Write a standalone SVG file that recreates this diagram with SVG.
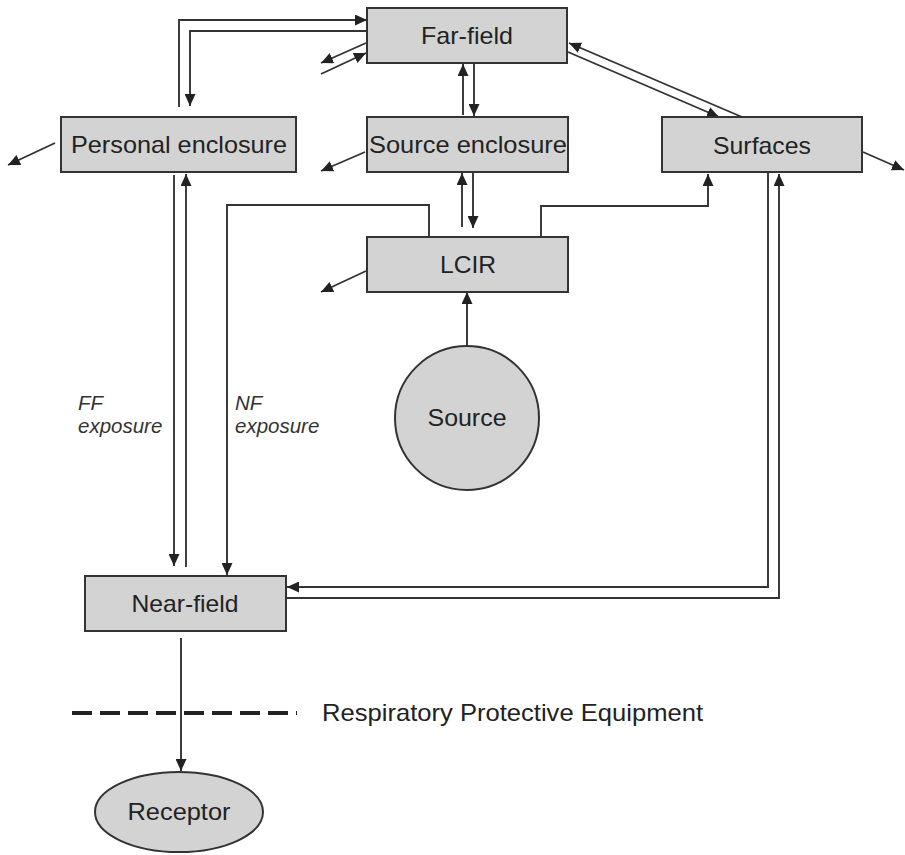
<svg xmlns="http://www.w3.org/2000/svg" width="905" height="855" viewBox="0 0 905 855">
<style>
.box{fill:#d3d3d3;stroke:#333;stroke-width:2}
.lbl{font-family:"Liberation Sans",Arial,sans-serif;font-size:24px;fill:#222;text-anchor:middle}
.it{font-family:"Liberation Sans",Arial,sans-serif;font-size:20.5px;font-style:italic;fill:#333}
.c{fill:none;stroke:#333;stroke-width:1.9}
.a{marker-end:url(#ah)}
</style>
<defs>
<marker id="ah" markerUnits="userSpaceOnUse" markerWidth="13" markerHeight="11" refX="12" refY="5.5" orient="auto">
<path d="M0,0 L12,5.5 L0,11 z" fill="#222"/>
</marker>
</defs>
<rect width="905" height="855" fill="#fff"/>
<g id="connectors">
<path class="c a" d="M179,107 V20 H367"/>
<path class="c a" d="M367,31 H190 V106"/>
<path class="c a" d="M366,43 L321,63"/>
<path class="c a" d="M321,74 L366,53"/>
<path class="c a" d="M463,115 V64"/>
<path class="c a" d="M474,64 V116"/>
<path class="c a" d="M55,143 L8,165"/>
<path class="c a" d="M174,175 V566"/>
<path class="c a" d="M186,567 V174"/>
<path class="c a" d="M429,237 V205 H227 V575"/>
<path class="c a" d="M541,237 V206 H708 V174"/>
<path class="c a" d="M462,227 V173"/>
<path class="c a" d="M473,173 V228"/>
<path class="c a" d="M365,152 L321,171"/>
<path class="c a" d="M366,271 L321,292"/>
<path class="c a" d="M467,346 V292"/>
<path class="c a" d="M742,117 L569,43"/>
<path class="c a" d="M568,52 L719,117"/>
<path class="c a" d="M863,152 L904,170"/>
<path class="c a" d="M768,173 V587 H287"/>
<path class="c a" d="M286,598 H779 V174"/>
<path class="c a" d="M181,638 V771"/>
<path d="M72,713 H297" fill="none" stroke="#222" stroke-width="4" stroke-dasharray="20 8"/>
</g>
<g id="far-field"><rect class="box" x="367" y="8" width="200" height="55"/><text class="lbl" x="467" y="44" textLength="92" lengthAdjust="spacingAndGlyphs">Far-field</text></g>
<g id="personal-enclosure"><rect class="box" x="61" y="117" width="235" height="55"/><text class="lbl" x="179" y="153" textLength="216" lengthAdjust="spacingAndGlyphs">Personal enclosure</text></g>
<g id="source-enclosure"><rect class="box" x="367" y="117" width="201" height="55"/><text class="lbl" x="468" y="153" textLength="198" lengthAdjust="spacingAndGlyphs">Source enclosure</text></g>
<g id="surfaces"><rect class="box" x="662" y="117" width="200" height="55"/><text class="lbl" x="762" y="154" textLength="98" lengthAdjust="spacingAndGlyphs">Surfaces</text></g>
<g id="lcir"><rect class="box" x="367" y="237" width="201" height="55"/><text class="lbl" x="468" y="273" textLength="56" lengthAdjust="spacingAndGlyphs">LCIR</text></g>
<g id="source"><circle class="box" cx="467" cy="418" r="72"/><text class="lbl" x="467" y="426" textLength="79" lengthAdjust="spacingAndGlyphs">Source</text></g>
<g id="near-field"><rect class="box" x="85" y="576" width="201" height="55"/><text class="lbl" x="185" y="612" textLength="107" lengthAdjust="spacingAndGlyphs">Near-field</text></g>
<g id="receptor"><ellipse class="box" cx="179" cy="812" rx="84" ry="40"/><text class="lbl" x="179" y="820" textLength="103" lengthAdjust="spacingAndGlyphs">Receptor</text></g>
<g id="labels">
<text class="it" x="78" y="410">FF</text>
<text class="it" x="78" y="433">exposure</text>
<text class="it" x="235" y="410">NF</text>
<text class="it" x="235" y="433">exposure</text>
<text class="lbl" x="322" y="721" style="text-anchor:start" textLength="381" lengthAdjust="spacingAndGlyphs">Respiratory Protective Equipment</text>
</g>
</svg>
